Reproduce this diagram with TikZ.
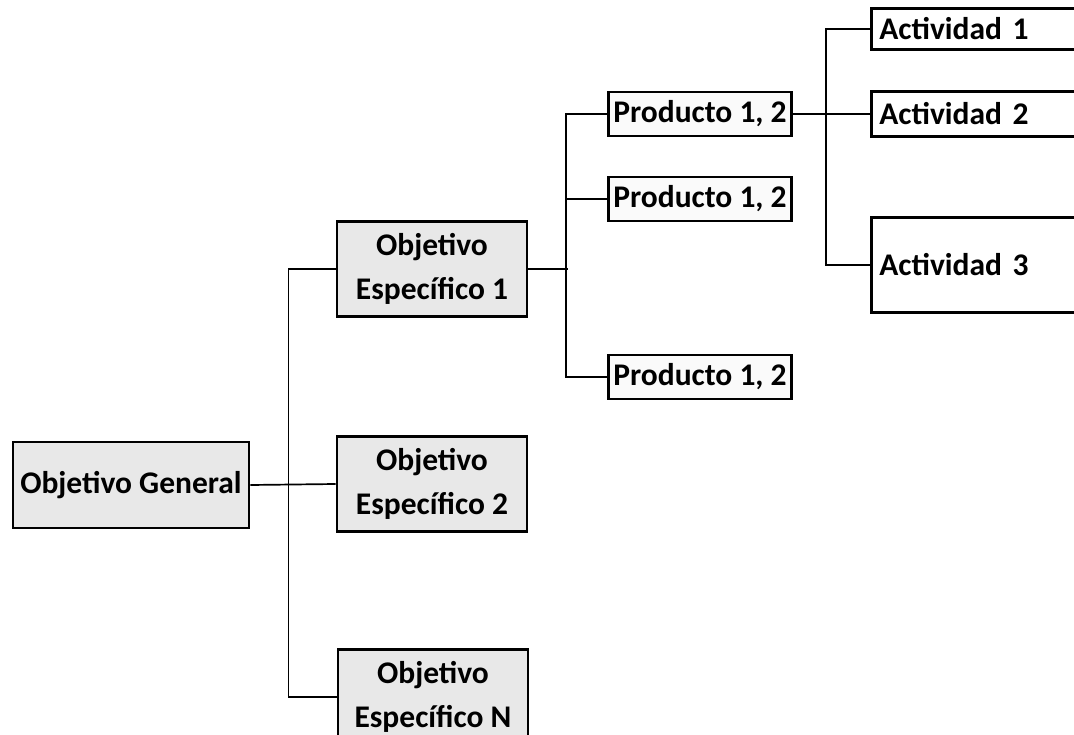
\documentclass[tikz,border=0pt]{standalone}
\usepackage{fontspec}
\setmainfont{Carlito}
\usetikzlibrary{positioning}

\begin{document}
\begin{tikzpicture}[x=1pt,y=-1pt,
    caja/.style={draw, line width=2.8pt, font=\bfseries\fontsize{31.5}{44}\selectfont, align=center, inner sep=0pt},
    objbox/.style={caja, fill=gray!18, minimum width=190pt, minimum height=95pt},
    prodbox/.style={caja, fill=gray!4, minimum width=183pt, minimum height=44pt},
    actbox/.style={caja, fill=white, anchor=west, text width=300pt, align=left, inner xsep=8pt},
    linea/.style={line width=1.7pt}]
    \useasboundingbox (0,0) rectangle (1074,735);
    \clip (0,0) rectangle (1074,735);
    % Objetivos
    \node[objbox, minimum width=236pt, minimum height=86pt] (og) at (131,485) {Objetivo General};
    \node[objbox] (oe1) at (432,269) {Objetivo\\Específico 1};
    \node[objbox] (oe2) at (432,484) {Objetivo\\Específico 2};
    \node[objbox] (oen) at (433,697) {Objetivo\\Específico N};
    % Productos
    \node[prodbox] (p1) at (700,114) {Producto 1, 2};
    \node[prodbox] (p2) at (700,199) {Producto 1, 2};
    \node[prodbox] (p3) at (700,377) {Producto 1, 2};
    % Actividades
    \node[actbox, minimum height=41pt] (a1) at (870,29) {Actividad 1};
    \node[actbox, minimum height=45pt] (a2) at (870,114) {Actividad 2};
    \node[actbox, minimum height=95pt] (a3) at (870,265) {Actividad 3};
    % Conectores
    \draw[linea] (og.east) -- (oe2.west);
    \draw[linea] (oe1.west) -- ++(-47,0) |- (oen.west);
    \draw[linea] (oe1.east) -- ++(40,0);
    \draw[linea] (p1.west) -- ++(-41,0) |- (p3.west);
    \draw[linea] (p2.west) -- ++(-41,0);
    \draw[linea] (p1.east) -- (a2.west);
    \draw[linea] (a1.west) -- ++(-44,0) |- (a3.west);
\end{tikzpicture}
\end{document}
